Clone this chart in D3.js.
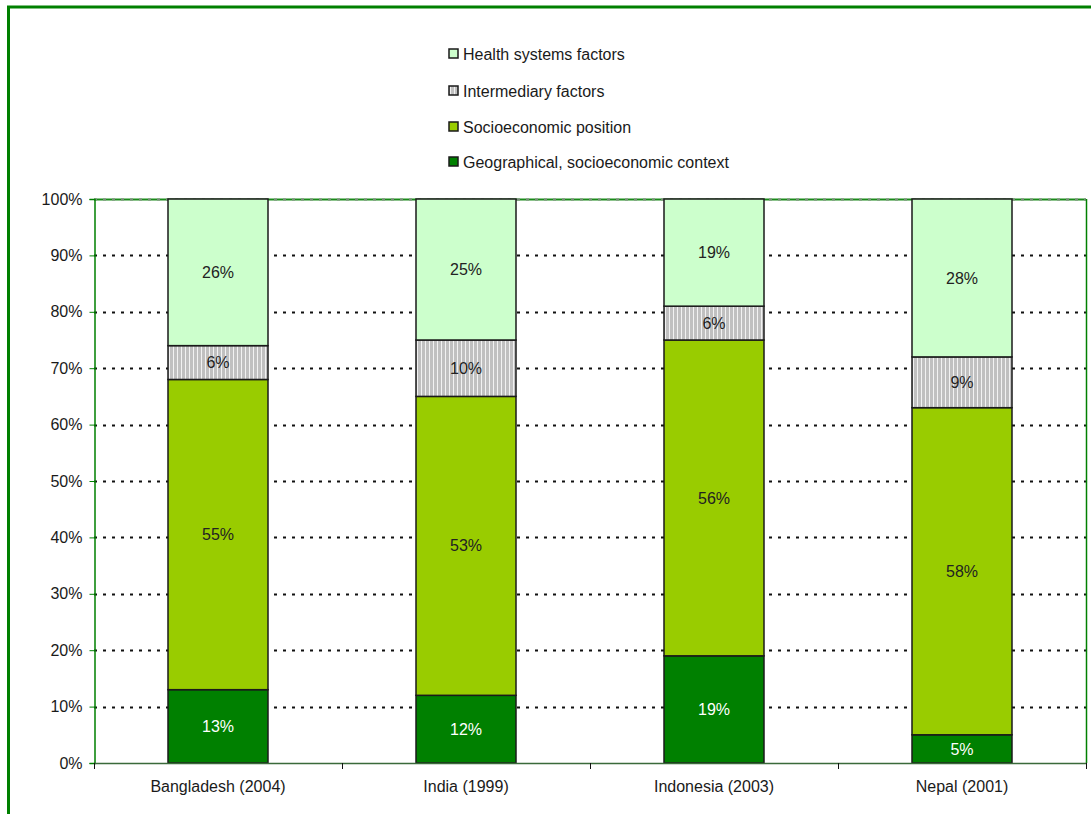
<!DOCTYPE html>
<html>
<head>
<meta charset="utf-8">
<script src="https://cdn.jsdelivr.net/npm/d3@7"></script>
<style>
  html, body { margin: 0; padding: 0; background: #fff; }
  svg { display: block; font-family: Arial, "Liberation Sans", sans-serif; }
</style>
</head>
<body>
<svg id="chart" width="1091" height="814"></svg>
<script>
// Countries (survey year) along the x axis
const categories = ["Bangladesh (2004)", "India (1999)", "Indonesia (2003)", "Nepal (2001)"];

// Share of the gap attributed to each group of factors, in percent (bottom to top)
const geographical = [13, 12, 19, 5];
const socioeconomic = [55, 53, 56, 58];
const intermediary = [6, 10, 6, 9];
const healthSystems = [26, 25, 19, 28];

const yTicks = [0, 10, 20, 30, 40, 50, 60, 70, 80, 90, 100];

const seriesNames = [
  "Geographical, socioeconomic context",
  "Socioeconomic position",
  "Intermediary factors",
  "Health systems factors"
];

const svg = d3.select("#chart");
const W = 1091, H = 814;
const FS = 16;

// Pattern for the hatched "intermediary" segments
const defs = svg.append("defs");
const pat = defs.append("pattern")
  .attr("id", "hatch")
  .attr("patternUnits", "userSpaceOnUse")
  .attr("width", 4).attr("height", 4);
pat.append("rect").attr("width", 4).attr("height", 4).attr("fill", "#c0c0c0");
pat.append("rect").attr("x", 1).attr("width", 1).attr("height", 4).attr("fill", "#f2f2f2");

const fills = ["#008000", "#99cc00", "url(#hatch)", "#ccffcc"];
const labelColors = ["#ffffff", "#222222", "#222222", "#222222"];

// Outer frame
svg.append("path")
  .attr("d", `M8.5,${H + 5} L8.5,7 L${W + 5},7`)
  .attr("fill", "none")
  .attr("stroke", "#008000")
  .attr("stroke-width", 3);

const plot = { left: 94, right: 1086, top: 199, bottom: 763 };

const x = d3.scaleBand()
  .domain(categories)
  .range([plot.left, plot.right])
  .paddingInner(0)
  .paddingOuter(0);

const barWidth = 100;

const y = d3.scaleLinear()
  .domain([0, 100])
  .range([plot.bottom, plot.top]);

// Build stacked table
const table = categories.map((c, i) => ({
  country: c,
  s0: geographical[i],
  s1: socioeconomic[i],
  s2: intermediary[i],
  s3: healthSystems[i]
}));
const stack = d3.stack().keys(["s0", "s1", "s2", "s3"]);
const stacked = stack(table);

// Top border of the plot area
svg.append("line")
  .attr("x1", plot.left).attr("x2", plot.right)
  .attr("y1", y(100) + 0.5).attr("y2", y(100) + 0.5)
  .attr("stroke", "#1a8a1a").attr("stroke-width", 2);

// Dotted horizontal gridlines
const gridVals = yTicks.filter(v => v > 0);
svg.append("g").selectAll("line")
  .data(gridVals)
  .join("line")
  .attr("x1", plot.left).attr("x2", plot.right)
  .attr("y1", d => Math.round(y(d)) + 0.5)
  .attr("y2", d => Math.round(y(d)) + 0.5)
  .attr("stroke", d => d === 100 ? "#7a8a7a" : "#111")
  .attr("stroke-width", 2)
  .attr("stroke-dasharray", "3,6");

// Plot-area right border
svg.append("line")
  .attr("x1", plot.right + 0.5).attr("x2", plot.right + 0.5)
  .attr("y1", plot.top).attr("y2", plot.bottom)
  .attr("stroke", "#008000").attr("stroke-width", 1.5);

// Bars
const gBars = svg.append("g");
stacked.forEach((layer, li) => {
  gBars.append("g").selectAll("rect")
    .data(layer)
    .join("rect")
    .attr("x", d => x(d.data.country) + (x.bandwidth() - barWidth) / 2)
    .attr("y", d => y(d[1]))
    .attr("width", barWidth)
    .attr("height", d => y(d[0]) - y(d[1]))
    .attr("fill", fills[li])
    .attr("stroke", "#1a1a1a")
    .attr("stroke-width", 1.5);
});

// Value labels
stacked.forEach((layer, li) => {
  gBars.append("g").selectAll("text")
    .data(layer)
    .join("text")
    .attr("x", d => x(d.data.country) + x.bandwidth() / 2)
    .attr("y", d => (y(d[0]) + y(d[1])) / 2)
    .attr("dy", "0.35em")
    .attr("text-anchor", "middle")
    .attr("font-size", FS)
    .attr("fill", labelColors[li])
    .text(d => `${d[1] - d[0]}%`);
});

// Y axis
const yAxis = d3.axisLeft(y)
  .tickValues(yTicks)
  .tickSize(5)
  .tickFormat(d => `${d}%`);
const gy = svg.append("g")
  .attr("transform", `translate(${plot.left + 0.5},0)`)
  .call(yAxis);
gy.select(".domain").attr("stroke", "#008000").attr("stroke-width", 1.5);
gy.selectAll(".tick line").attr("stroke", "#008000");
gy.selectAll(".tick text")
  .attr("font-size", FS)
  .attr("fill", "#1a1a1a")
  .attr("x", -12)
  .attr("font-family", "Arial, 'Liberation Sans', sans-serif");

// X axis with ticks at category boundaries
const xAxis = d3.axisBottom(x).tickSize(0).tickPadding(17);
const gx = svg.append("g")
  .attr("transform", `translate(0,${plot.bottom + 0.5})`)
  .call(xAxis);
gx.select(".domain").remove();
gx.selectAll(".tick text")
  .attr("font-size", FS)
  .attr("fill", "#1a1a1a")
  .attr("font-family", "Arial, 'Liberation Sans', sans-serif");

svg.append("line")
  .attr("x1", plot.left).attr("x2", plot.right + 1)
  .attr("y1", plot.bottom + 0.5).attr("y2", plot.bottom + 0.5)
  .attr("stroke", "#3a6a3a").attr("stroke-width", 1.5);

const bounds = categories.map(c => x(c)).concat([plot.right]);
svg.append("g").selectAll("line")
  .data(bounds)
  .join("line")
  .attr("x1", d => Math.round(d) + 0.5).attr("x2", d => Math.round(d) + 0.5)
  .attr("y1", plot.bottom).attr("y2", plot.bottom + 6)
  .attr("stroke", "#111").attr("stroke-width", 1);

// Legend (top entry is the top series)
const legendOrder = [3, 2, 1, 0];
const lg = svg.append("g").attr("transform", "translate(449,0)");
const legendY = [54, 91, 127, 162];
legendOrder.forEach((si, k) => {
  const row = lg.append("g").attr("transform", `translate(0,${legendY[k]})`);
  row.append("rect")
    .attr("x", 0).attr("y", -5)
    .attr("width", 9).attr("height", 9)
    .attr("fill", fills[si])
    .attr("stroke", "#1a1a1a")
    .attr("stroke-width", 1.5);
  row.append("text")
    .attr("x", 14).attr("y", 0)
    .attr("dy", "0.35em")
    .attr("font-size", FS)
    .attr("fill", "#1a1a1a")
    .text(seriesNames[si]);
});
</script>
</body>
</html>
